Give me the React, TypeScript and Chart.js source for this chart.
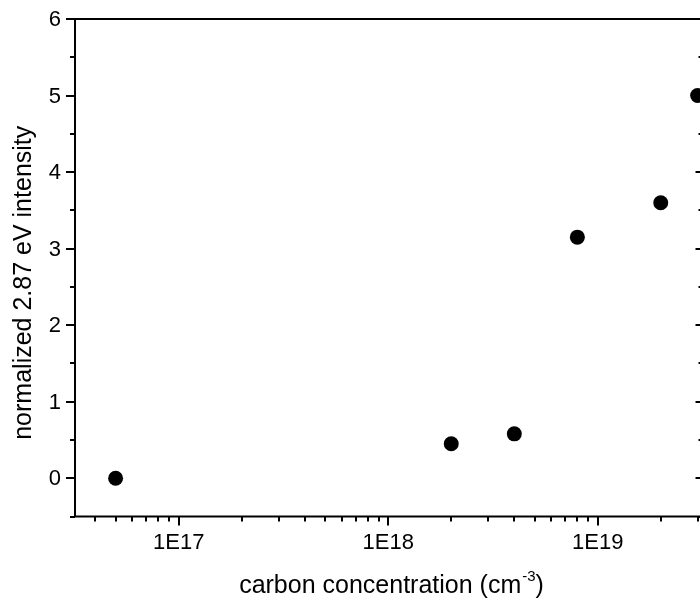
import { useEffect, useRef } from "react";
import { Chart, registerables } from "chart.js";

Chart.register(...registerables);

// ---- data ----
const xValues = [5e16, 2e18, 4e18, 8e18, 2e19, 3e19];
const yValues = [0, 0.45, 0.58, 3.15, 3.6, 5.0];

const xDecades = [1e17, 1e18, 1e19];
const xTickLabels = ["1E17", "1E18", "1E19"];
const yMajorTicks = [0, 1, 2, 3, 4, 5, 6];
const yTickLabels = ["0", "1", "2", "3", "4", "5", "6"];
const yMinorTicks = [-0.5, 0.5, 1.5, 2.5, 3.5, 4.5, 5.5];

const xTitle = "carbon concentration (cm";
const xTitleSup = "-3";
const xTitleEnd = ")";
const yTitle = "normalized 2.87 eV intensity";

const X_MIN = 3.2e16;
const X_MAX = 3.2e19;
const Y_MIN = -0.5;
const Y_MAX = 6;

const FONT = '"Liberation Sans", Arial, Helvetica, sans-serif';

const axesPlugin = {
  id: "originAxes",
  beforeDatasetsDraw(chart: any) {
    const ctx: CanvasRenderingContext2D = chart.ctx;
    const { left, right, top, bottom } = chart.chartArea;
    const xs = chart.scales.x;
    const ys = chart.scales.y;
    ctx.save();
    ctx.strokeStyle = "#000";
    ctx.fillStyle = "#000";
    ctx.lineWidth = 2;
    ctx.lineCap = "butt";

    // frame
    ctx.beginPath();
    ctx.moveTo(left, top);
    ctx.lineTo(right, top);
    ctx.moveTo(left, top - 1);
    ctx.lineTo(left, bottom + 1);
    ctx.moveTo(left - 1, bottom);
    ctx.lineTo(right, bottom);
    ctx.moveTo(right, top);
    ctx.lineTo(right, bottom);
    ctx.stroke();

    const MAJ = 9;
    const MIN = 5;

    // y ticks
    ctx.beginPath();
    for (const v of yMajorTicks) {
      const y = Math.round(ys.getPixelForValue(v));
      ctx.moveTo(left, y);
      ctx.lineTo(left - MAJ, y);
      ctx.moveTo(right, y);
      ctx.lineTo(right - 8, y);
    }
    for (const v of yMinorTicks) {
      const y = Math.round(ys.getPixelForValue(v));
      ctx.moveTo(left, y);
      ctx.lineTo(left - MIN, y);
      ctx.moveTo(right, y);
      ctx.lineTo(right - MIN, y);
    }
    ctx.stroke();

    // x ticks
    ctx.beginPath();
    const lo = Math.floor(Math.log10(X_MIN));
    const hi = Math.ceil(Math.log10(X_MAX));
    for (let e = lo; e <= hi; e++) {
      for (let k = 1; k <= 9; k++) {
        const v = k * Math.pow(10, e);
        if (v < X_MIN || v > X_MAX) continue;
        const x = Math.round(xs.getPixelForValue(v));
        const len = k === 1 ? MAJ : MIN;
        ctx.moveTo(x, bottom);
        ctx.lineTo(x, bottom + len);
      }
    }
    ctx.stroke();

    // tick labels
    ctx.font = `22px ${FONT}`;
    ctx.textAlign = "right";
    ctx.textBaseline = "middle";
    yMajorTicks.forEach((v, i) => {
      ctx.fillText(yTickLabels[i], left - 14, ys.getPixelForValue(v) + 1);
    });
    ctx.textAlign = "center";
    ctx.textBaseline = "alphabetic";
    xDecades.forEach((v, i) => {
      ctx.fillText(xTickLabels[i], xs.getPixelForValue(v), 549);
    });

    // x title with superscript
    const mainFont = `25px ${FONT}`;
    const supFont = `15px ${FONT}`;
    ctx.font = mainFont;
    const w1 = ctx.measureText(xTitle).width;
    const w3 = ctx.measureText(xTitleEnd).width;
    ctx.font = supFont;
    const w2 = ctx.measureText(xTitleSup).width;
    const total = w1 + w2 + w3;
    const cx = 391;
    let x0 = cx - total / 2;
    const base = 593;
    ctx.textAlign = "left";
    ctx.font = mainFont;
    ctx.fillText(xTitle, x0, base);
    ctx.font = supFont;
    ctx.fillText(xTitleSup, x0 + w1 + 1, base - 12);
    ctx.font = mainFont;
    ctx.fillText(xTitleEnd, x0 + w1 + w2 + 1, base);

    // y title
    ctx.save();
    ctx.translate(24, (top + bottom) / 2 + 15);
    ctx.rotate(-Math.PI / 2);
    ctx.textAlign = "center";
    ctx.textBaseline = "middle";
    ctx.font = mainFont;
    ctx.fillText(yTitle, 0, 0);
    ctx.restore();

    ctx.restore();
  },
};

export default function App() {
  const ref = useRef<HTMLCanvasElement>(null);
  useEffect(() => {
    const chart = new Chart(ref.current!, {
      type: "scatter",
      data: {
        datasets: [
          {
            data: xValues.map((x, i) => ({ x, y: yValues[i] })),
            pointRadius: 7.5,
            pointBackgroundColor: "#000",
            pointBorderColor: "#000",
            pointBorderWidth: 0,
            showLine: false,
            clip: false,
          } as any,
        ],
      },
      options: {
        responsive: false,
        animation: false,
        devicePixelRatio: 1,
        events: [],
        layout: { padding: { left: 75, top: 19, right: 16.5, bottom: 85.5 } },
        plugins: { legend: { display: false }, tooltip: { enabled: false } },
        scales: {
          x: { type: "logarithmic", min: X_MIN, max: X_MAX, display: false },
          y: { type: "linear", min: Y_MIN, max: Y_MAX, display: false },
        },
      },
      plugins: [axesPlugin],
    });
    return () => chart.destroy();
  }, []);
  return (
    <div
      style={{
        position: "fixed",
        left: 0,
        top: 0,
        width: 700,
        height: 602,
        overflow: "hidden",
        background: "#fff",
      }}
    >
      <canvas ref={ref} width={720} height={602} style={{ display: "block" }} />
    </div>
  );
}
